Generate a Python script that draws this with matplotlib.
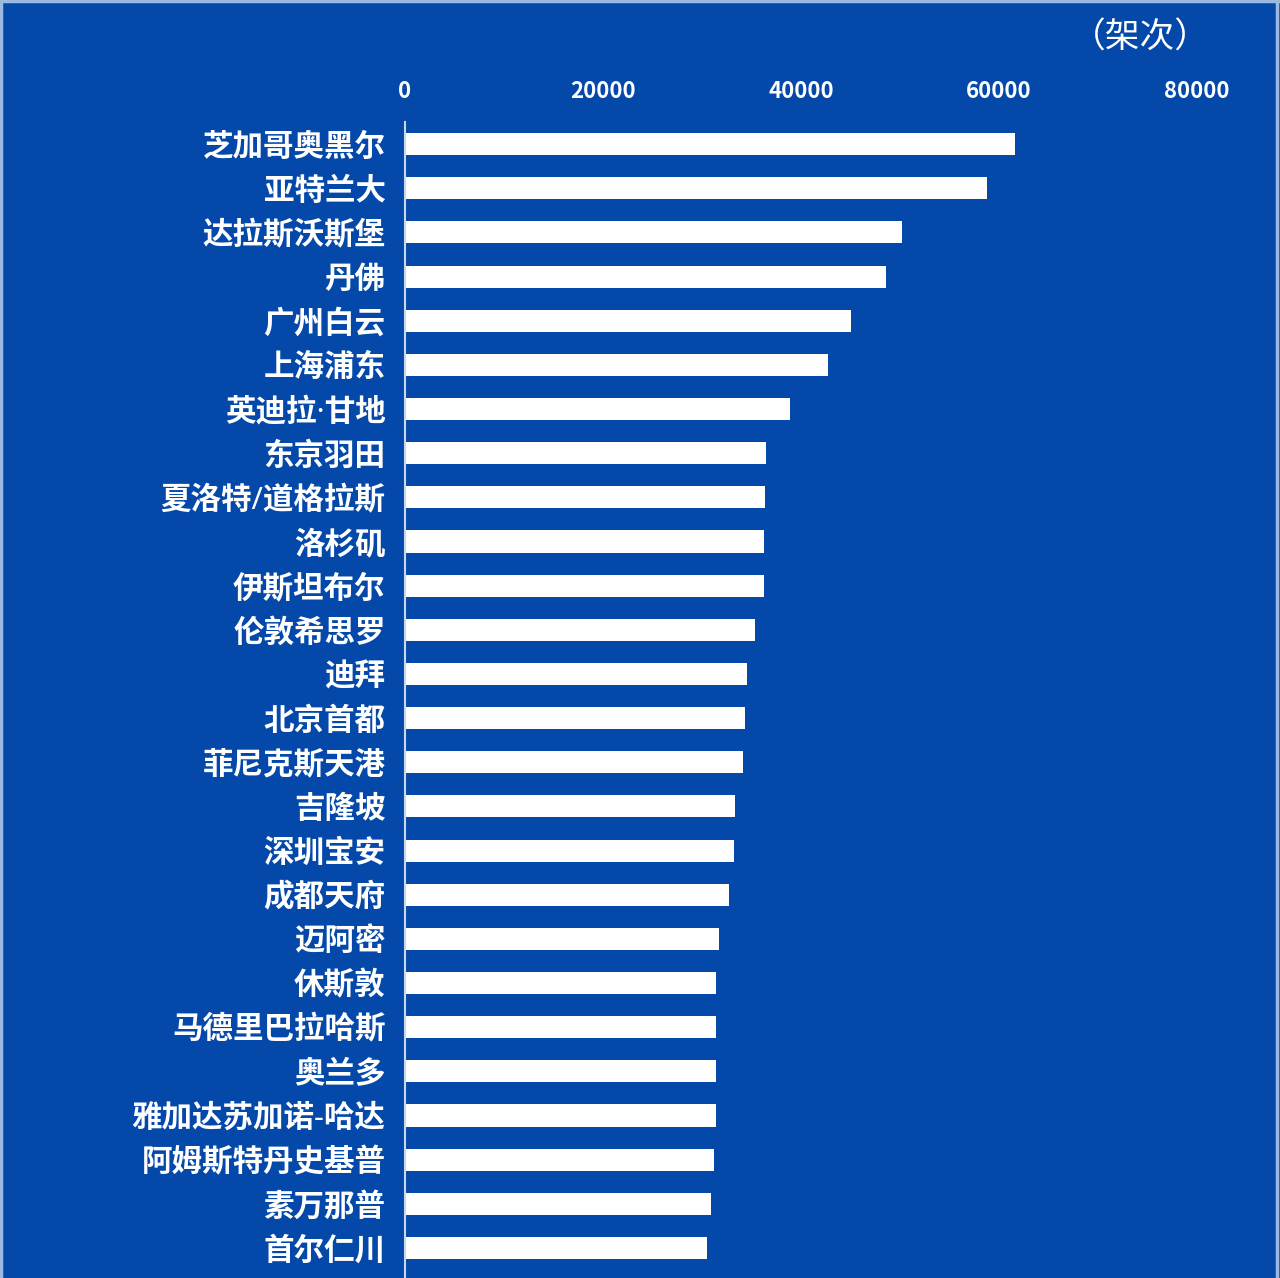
import matplotlib.pyplot as plt
from matplotlib.lines import Line2D

plt.rcParams['font.family'] = ['Noto Sans', 'Noto Sans CJK SC', 'DejaVu Sans']

airports = ["芝加哥奥黑尔", "亚特兰大", "达拉斯沃斯堡", "丹佛", "广州白云", "上海浦东",
            "英迪拉·甘地", "东京羽田", "夏洛特/道格拉斯", "洛杉矶", "伊斯坦布尔", "伦敦希思罗",
            "迪拜", "北京首都", "菲尼克斯天港", "吉隆坡", "深圳宝安", "成都天府",
            "迈阿密", "休斯敦", "马德里巴拉哈斯", "奥兰多", "雅加达苏加诺-哈达",
            "阿姆斯特丹史基普", "素万那普", "首尔仁川"]
flights = [61600, 58750, 50170, 48560, 45050, 42700,
           38920, 36500, 36360, 36260, 36260, 35320,
           34520, 34340, 34110, 33360, 33230, 32700,
           31720, 31390, 31390, 31390, 31390,
           31210, 30880, 30540]
xticks = [0, 20000, 40000, 60000, 80000]

bg = '#0449A9'
edge = '#9DB9E2'

fig = plt.figure(figsize=(12.8, 12.78), dpi=100, facecolor=bg)
ax = fig.add_axes([405 / 1280, 0, (1197 - 405) / 1280, 1 - 122 / 1278])
ax.set_facecolor(bg)

pos = list(range(len(airports)))
ax.barh(pos, flights, height=0.5, color='white')

ax.set_xlim(0, 80000)
ax.set_ylim(25.68, -0.5)
ax.xaxis.tick_top()
ax.set_xticks(xticks)
ax.set_xticklabels([str(t) for t in xticks], color='white', fontsize=16,
                   fontweight='bold', family=['Noto Sans CJK SC'])
ax.tick_params(axis='x', length=0, pad=14)
ax.set_yticks(pos)
ax.set_yticklabels(airports, color='white', fontsize=22, fontweight='bold')
ax.tick_params(axis='y', length=0, pad=14)

for s in ['top', 'right', 'bottom']:
    ax.spines[s].set_visible(False)
ax.spines['left'].set_color('#C8D6EE')
ax.spines['left'].set_linewidth(1.5)

fig.text(1140 / 1280, 1 - 38 / 1278, "（架次）", color='white', fontsize=25,
         ha='center', va='center', family=['Noto Sans CJK SC'])

# light frame on top, left and right
for xs, ys in [([0, 1], [0.999, 0.999]), ([0.001, 0.001], [0, 1]), ([0.998, 0.998], [0, 1])]:
    fig.add_artist(Line2D(xs, ys, color=edge, linewidth=2.5, transform=fig.transFigure))

fig.savefig('out.png', dpi=100, facecolor=bg)
